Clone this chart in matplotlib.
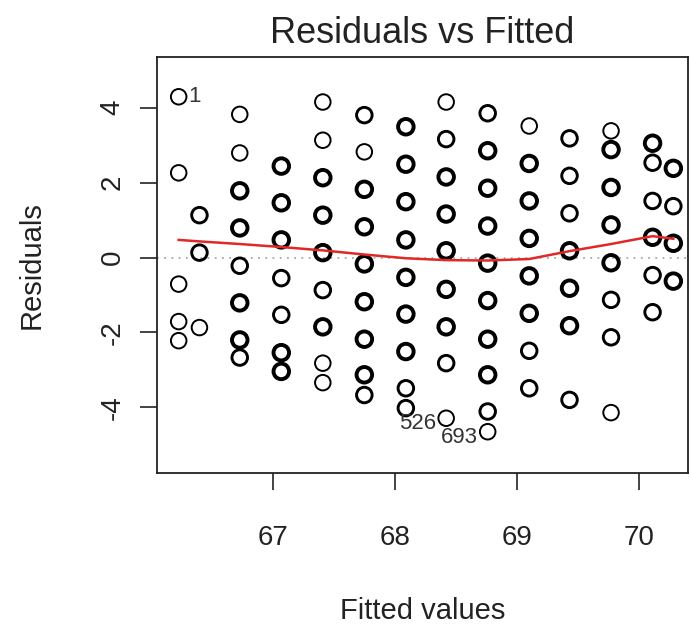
import numpy as np
import matplotlib
matplotlib.use("Agg")
import matplotlib.pyplot as plt

plt.rcParams['font.family'] = ['Liberation Sans', 'DejaVu Sans']
plt.rcParams['axes.unicode_minus'] = False

# Distinct fitted values (one column of residuals per fitted value)
fitted = [66.23, 66.40, 66.73, 67.07, 67.41, 67.75, 68.09,
          68.42, 68.76, 69.10, 69.43, 69.77, 70.11, 70.28]

# Residuals observed at each fitted value
residuals = [
    [4.29, 2.26, -0.71, -1.71, -2.22],
    [1.13, 0.13, -1.87],
    [3.82, 2.79, 1.78, 0.79, -0.22, -1.21, -2.20, -2.67],
    [2.44, 1.46, 0.47, -0.55, -1.53, -2.54, -3.04],
    [4.15, 3.13, 2.13, 1.13, 0.13, -0.87, -1.85, -2.82, -3.34],
    [3.80, 2.82, 1.82, 0.82, -0.17, -1.18, -2.18, -3.13, -3.67],
    [3.49, 2.49, 1.49, 0.47, -0.53, -1.51, -2.51, -3.49, -4.02],
    [4.15, 3.16, 2.15, 1.16, 0.18, -0.85, -1.85, -2.82, -4.29],
    [3.85, 2.85, 1.85, 0.84, -0.15, -1.15, -2.18, -3.13, -4.11, -4.65],
    [3.51, 2.51, 1.51, 0.51, -0.49, -1.49, -2.49, -3.49],
    [3.18, 2.18, 1.18, 0.18, -0.82, -1.82, -3.80],
    [3.38, 2.88, 1.87, 0.87, -0.14, -1.13, -2.13, -4.14],
    [3.05, 2.53, 1.51, 0.54, -0.47, -1.46],
    [2.38, 1.37, 0.38, -0.63],
]

# Number of coinciding observations at each point (1, 2, or 3+)
counts = [
    [1, 1, 1, 1, 1],
    [2, 2, 1],
    [1, 1, 3, 3, 2, 3, 3, 2],
    [3, 3, 3, 2, 2, 3, 3],
    [1, 1, 3, 3, 3, 2, 3, 1, 1],
    [2, 1, 3, 3, 3, 3, 3, 3, 2],
    [3, 3, 3, 3, 3, 3, 3, 2, 2],
    [1, 2, 3, 3, 3, 3, 3, 2, 1],
    [2, 3, 3, 3, 3, 3, 3, 3, 2, 1],
    [1, 3, 3, 3, 3, 3, 2, 2],
    [2, 2, 2, 3, 3, 3, 2],
    [1, 3, 3, 3, 3, 2, 2, 1],
    [3, 2, 2, 3, 2, 2],
    [3, 2, 3, 3],
]

# Lowess smooth evaluated at each fitted value
smooth = [0.47, 0.43, 0.36, 0.28, 0.19, 0.08, -0.02,
          -0.07, -0.08, -0.04, 0.17, 0.36, 0.57, 0.50]

# Observations flagged by id (fitted value, residual, label)
id_fitted = [66.23, 68.42, 68.76]
id_resid = [4.29, -4.29, -4.65]
id_labels = ["1", "526", "693"]

x = np.concatenate([[f] * len(r) for f, r in zip(fitted, residuals)])
y = np.concatenate(residuals)
n = np.concatenate(counts)

fig = plt.figure(figsize=(6.9, 6.27), dpi=100)
ax = fig.add_axes([0.2271, 0.2451, 0.77, 0.6645])

xlim = (66.05, 70.40)
ax.set_xlim(*xlim)
ax.set_ylim(-5.76, 5.36)

ax.axhline(0, color='#a8a8a8', lw=1.3, ls=(0, (1, 3)), zorder=1)

widths = {1: 1.4, 2: 2.1, 3: 2.8}
for k in (1, 2, 3):
    m = n == k
    ax.scatter(x[m], y[m], s=125, facecolors='none', edgecolors='black',
               linewidths=widths[k], zorder=3)

ax.plot(fitted, smooth, color='#e02828', lw=1.8, zorder=4)

# Labels go right of the point on the left half, left of it otherwise
mid = np.mean(xlim)
for fx, fy, lab in zip(id_fitted, id_resid, id_labels):
    if fx < mid:
        ax.annotate(lab, (fx, fy), xytext=(7, 0), textcoords='offset points',
                    ha='left', va='center', fontsize=16, color='#333333')
    else:
        ax.annotate(lab, (fx, fy), xytext=(-7, -4), textcoords='offset points',
                    ha='right', va='center', fontsize=16, color='#333333')

ax.set_xticks([67, 68, 69, 70])
ax.set_yticks([-4, -2, 0, 2, 4])
ax.tick_params(axis='both', direction='out', length=12, width=1.2,
               labelsize=20, colors='#222222')
ax.tick_params(axis='x', pad=25)
ax.tick_params(axis='y', pad=10.5)
for lab in ax.get_yticklabels():
    lab.set_rotation(90)
    lab.set_va('center')
for sp in ax.spines.values():
    sp.set_linewidth(1.3)
    sp.set_color('#222222')

ax.set_xlabel('Fitted values', fontsize=21, labelpad=33, color='#222222')
ax.set_ylabel('Residuals', fontsize=21, labelpad=39, color='#222222')
ax.set_title('Residuals vs Fitted', fontsize=26, pad=10, color='#222222')

fig.savefig('out.png', dpi=100)
